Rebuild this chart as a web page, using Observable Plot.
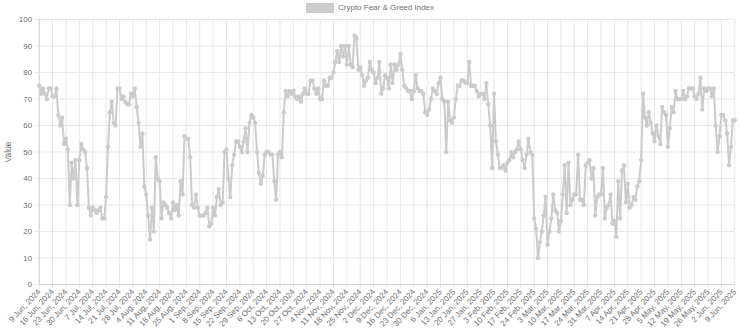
<!DOCTYPE html>
<html><head><meta charset="utf-8">
<script src="https://cdn.jsdelivr.net/npm/d3@7"></script>
<script src="https://cdn.jsdelivr.net/npm/@observablehq/plot@0.6"></script>
<style>
body{margin:0;background:#fff;font-family:"Liberation Sans",Arial,Helvetica,sans-serif;}
#wrap{position:relative;width:740px;height:334px;overflow:hidden;}
#legend{position:absolute;left:0;top:0;width:740px;height:16px;}
#legend .box{position:absolute;left:306px;top:3px;width:28px;height:10px;background:#cbcbcb;}
#legend .lbl{position:absolute;left:338px;top:2px;font-size:8px;line-height:12px;color:#707070;white-space:nowrap;}
#chart{position:absolute;left:0;top:16px;}
</style></head><body>
<div id="wrap">
  <div id="legend"><span class="box"></span><span class="lbl">Crypto Fear &amp; Greed Index</span></div>
  <div id="chart"></div>
</div>
<script>
const seriesName = "Crypto Fear & Greed Index";
const yAxisTitle = "Value";

// Daily index values (one value per category on the x axis)
const valuesA = [75,72,74,72,70,74,74,71,71,74, 64,60,63,53,55,51,30,46,40,47,
                 30,47,53,51,50,44,29,26,29,28, 27,28,29,25,25,33,52,65,69,61,
                 60,74,74,70,71,69,68,68,72,71];
const valuesB = [74,67,61,52,57,37,34,26,17,29, 20,48,40,39,25,31,30,29,27,25,
                 31,28,30,26,39,34,56,55,55,48, 30,29,34,29,26,26,26,27,29,22,
                 23,29,26,33,36,30,31,50,51,40, 33,45,49,54,54,52,50,54,59,50];
const valuesC = [61,64,63,61,50,42,38,41,49,50, 50,49,49,39,32,49,50,48,65,73,
                 71,73,72,73,71,70,71,69,72,74, 72,72,77,77,74,72,74,70,70,
                 77,75,75,78,78,80,84,88,84,90, 86,90,83,90,83,82,94,93,81,82];
const valuesD = [79,75,77,78,84,81,80,76,78,84, 72,74,79,78,74,83,76,83,81,83,
                 87,81,75,74,73,73,70,73,79,74, 73,73,72,65,64,66,70,74,73,72,
                 76,78,70,69,50,69,62,61,63,70, 75,75,77,77,76,76,84,75,75,75];
const valuesE = [73,71,72,72,70,76,68,60,44,72, 54,49,44,44,45,43,46,47,50,48,
                 50,51,54,51,47,44,49,55,50,49, 25,21,10,16,20,26,33,15,20,25,
                 34,28,27,20,24,34,45,27,46,30, 32,34,34,49,32,32,30,45,46,47];
const valuesF = [40,44,26,33,34,34,44,25,29,30, 34,23,24,18,39,25,43,45,31,38,
                 29,30,33,32,37,39,47,72,63,60, 65,61,57,54,60,56,53,67,65,64,
                 52,59,67,65,73,70,70,70,73,70, 71,74,74,74,71,70,72,78,66,74,
                 73,74,74,71,74,60,50,56,64,64, 62,57,45,52,62,62];

// x-axis labels: one every 7th category
const tickLabels = [
  "9 Jun, 2024","16 Jun, 2024","23 Jun, 2024","30 Jun, 2024","7 Jul, 2024","14 Jul, 2024",
  "21 Jul, 2024","28 Jul, 2024","4 Aug, 2024","11 Aug, 2024","18 Aug, 2024","25 Aug, 2024",
  "1 Sep, 2024","8 Sep, 2024","15 Sep, 2024","22 Sep, 2024","29 Sep, 2024","6 Oct, 2024",
  "13 Oct, 2024","20 Oct, 2024","27 Oct, 2024","4 Nov, 2024","11 Nov, 2024","18 Nov, 2024",
  "25 Nov, 2024","2 Dec, 2024","9 Dec, 2024","16 Dec, 2024","23 Dec, 2024","30 Dec, 2024",
  "6 Jan, 2025","13 Jan, 2025","20 Jan, 2025","27 Jan, 2025","3 Feb, 2025","10 Feb, 2025",
  "17 Feb, 2025","24 Feb, 2025","3 Mar, 2025","10 Mar, 2025","17 Mar, 2025","24 Mar, 2025",
  "31 Mar, 2025","7 Apr, 2025","14 Apr, 2025","21 Apr, 2025","28 Apr, 2025","5 May, 2025",
  "12 May, 2025","19 May, 2025","26 May, 2025","2 Jun, 2025","9 Jun, 2025"
];
const yTicks = [0,10,20,30,40,50,60,70,80,90,100];

const values = [...valuesA, ...valuesB, ...valuesC, ...valuesD, ...valuesE, ...valuesF];
const data = values.map((v, i) => ({i, v}));
const tickIdx = tickLabels.map((_, k) => k * 7);
const lastIdx = tickIdx[tickIdx.length - 1];

const gridColor = "#e6e6e6";
const lineColor = "#cbcbcb";
const textColor = "#707070";

const chart = Plot.plot({
  width: 740,
  height: 318,
  marginTop: 3,
  marginBottom: 50,
  marginLeft: 38.7,
  marginRight: 5.7,
  style: {fontFamily: "'Liberation Sans', Arial, sans-serif", fontSize: "8px", color: textColor, background: "#fff"},
  x: {type: "linear", domain: [0, lastIdx]},
  y: {domain: [0, 100]},
  marks: [
    Plot.gridX(tickIdx, {stroke: gridColor, strokeOpacity: 1}),
    Plot.gridY(yTicks, {stroke: gridColor, strokeOpacity: 1}),
    Plot.axisY(yTicks, {tickSize: 4, tickPadding: 3, stroke: gridColor, fill: textColor, label: null, fontSize: 8}),
    Plot.axisX(tickIdx, {tickSize: 4, tickPadding: 2, stroke: gridColor, fill: textColor, label: null,
      tickRotate: -47, fontSize: 8, tickFormat: i => tickLabels[Math.round(i / 7)]}),
    Plot.ruleX([0], {stroke: "#d4d4d4"}),
    Plot.ruleY([0], {stroke: "#d4d4d4"}),
    Plot.line(data, {x: "i", y: "v", stroke: lineColor, strokeWidth: 2}),
    Plot.dot(data, {x: "i", y: "v", r: 2.2, fill: lineColor, stroke: null}),
    Plot.text([yAxisTitle], {frameAnchor: "left", dx: -31, rotate: -90, fill: textColor, fontSize: 8.5, textAnchor: "middle"})
  ]
});
document.getElementById("chart").appendChild(chart);
</script>
</body></html>
